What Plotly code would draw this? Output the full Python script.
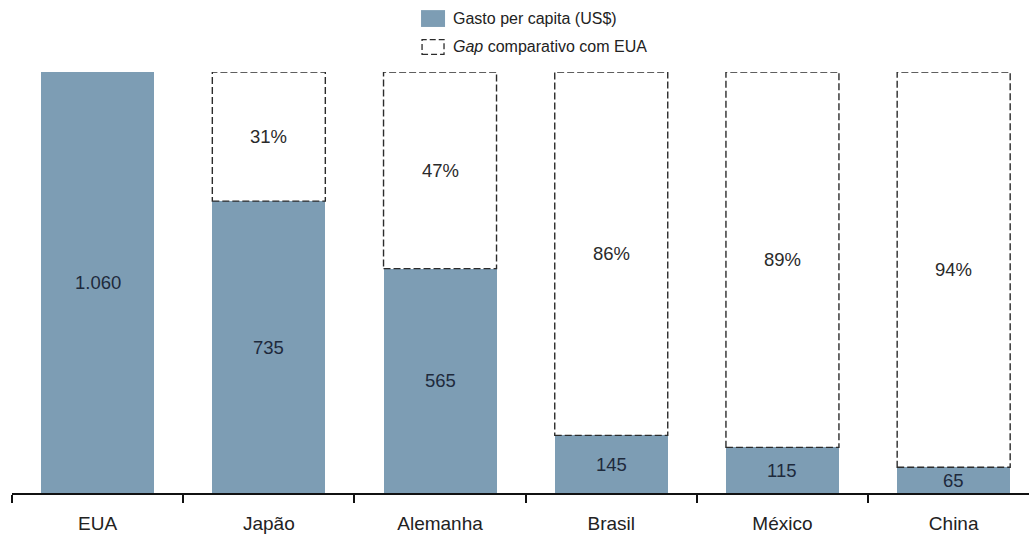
import plotly.graph_objects as go

# Spending per capita (US$) by country; the first country is the reference level
countries = ["EUA", "Japão", "Alemanha", "Brasil", "México", "China"]
spend = [1060, 735, 565, 145, 115, 65]

legend_spend = "Gasto per capita (US$)"
legend_gap = "<i>Gap</i> comparativo com EUA"

BLUE = "#7d9db4"
FONT = "Liberation Sans, Arial, sans-serif"
HALF = 0.33  # half bar width in category units

ref = spend[0]
fig = go.Figure()

fig.add_trace(go.Bar(
    x=countries, y=spend, width=2 * HALF,
    marker=dict(color=BLUE, line=dict(width=0)),
    name=legend_spend, showlegend=False, hoverinfo="skip",
))

shapes = []
annotations = []
for i, (c, v) in enumerate(zip(countries, spend)):
    # value label centred in the blue bar
    label = f"{v:,}".replace(",", ".")
    annotations.append(dict(x=c, y=v / 2, xref="x", yref="y", text=label,
                            showarrow=False, font=dict(size=18.5, color="#1e2a3c", family=FONT)))
    if v < ref:
        # dashed outline for the gap up to the reference level
        shapes.append(dict(type="rect", xref="x", yref="y",
                           x0=i - HALF, x1=i + HALF, y0=v, y1=ref,
                           line=dict(color="#2b2b2b", width=1.4, dash="7px,3px"),
                           fillcolor="rgba(0,0,0,0)", layer="above"))
        pct = round(100 * (1 - v / ref))
        annotations.append(dict(x=c, y=(v + ref) / 2, xref="x", yref="y", text=f"{pct}%",
                                showarrow=False, font=dict(size=18.5, color="#2a2a2a", family=FONT)))

# legend drawn by hand above the plot
shapes.append(dict(type="rect", xref="paper", yref="paper",
                   x0=0.4022, x1=0.4258, y0=1.107, y1=1.147,
                   fillcolor=BLUE, line=dict(width=0)))
shapes.append(dict(type="rect", xref="paper", yref="paper",
                   x0=0.4032, x1=0.4248, y0=1.042, y1=1.077,
                   fillcolor="rgba(0,0,0,0)", line=dict(color="#2b2b2b", width=1.3, dash="6px,3px")))
annotations.append(dict(x=0.4316, y=1.128, xref="paper", yref="paper", text=legend_spend,
                        xanchor="left", yanchor="middle", showarrow=False,
                        font=dict(size=16, color="#222", family=FONT)))
annotations.append(dict(x=0.4316, y=1.060, xref="paper", yref="paper", text=legend_gap,
                        xanchor="left", yanchor="middle", showarrow=False,
                        font=dict(size=16, color="#222", family=FONT)))

fig.update_layout(
    width=1029, height=536,
    margin=dict(l=12, r=0, t=72, b=43),
    paper_bgcolor="white", plot_bgcolor="white",
    shapes=shapes, annotations=annotations,
    showlegend=False,
    bargap=0,
    xaxis=dict(type="category", range=[-0.5, 5.44], showgrid=False,
               showline=True, linecolor="#111", linewidth=2,
               ticks="outside", tickson="boundaries", ticklen=8, tickwidth=2, tickcolor="#111",
               ticklabelstandoff=12,
               tickfont=dict(size=19, color="#222", family=FONT), zeroline=False),
    yaxis=dict(range=[0, ref], visible=False, showgrid=False, zeroline=False),
)

fig.write_html("out.html")
